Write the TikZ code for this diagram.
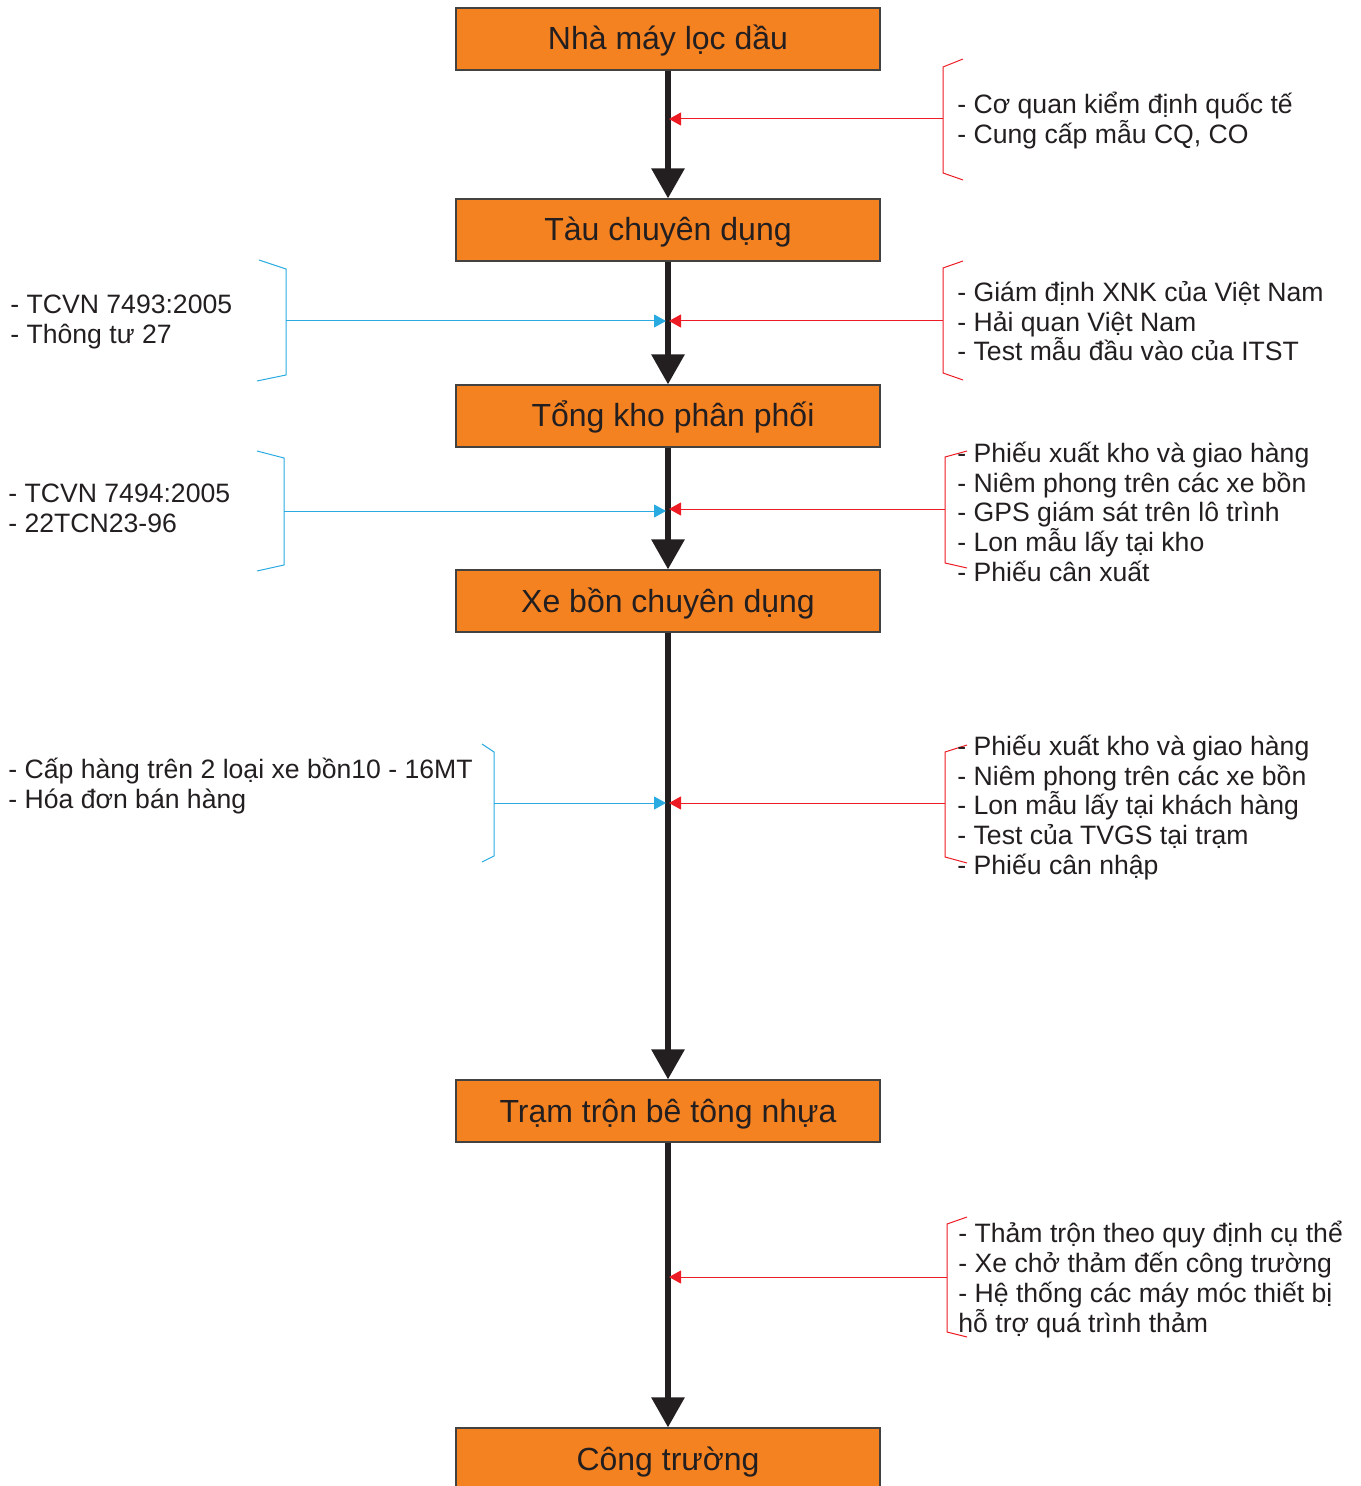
\documentclass[tikz,border=0pt]{standalone}
\usepackage{fontspec}
\setmainfont{Liberation Sans}
\usetikzlibrary{arrows.meta}
\definecolor{boxorange}{HTML}{F58220}
\definecolor{ink}{HTML}{231F20}
\definecolor{myred}{HTML}{ED1C24}
\definecolor{myblue}{HTML}{29ABE2}
\newcommand\mysidefont{\fontsize{13.3}{14.9}\selectfont\lineskiplimit -100pt\relax\lineskip 0pt\relax}
\begin{document}
\begin{tikzpicture}[x=0.5pt,y=-0.5pt,
  flowbox/.style={draw=ink!85, line width=0.6pt, fill=boxorange, minimum width=212pt,
    minimum height=31pt, inner sep=0pt, text height=13pt, text depth=2pt,
    font=\fontsize{16}{19}\selectfont, text=ink},
  mainarr/.style={draw=ink, line width=3pt, -{Triangle[width=16pt,length=15pt]}},
  redarr/.style={draw=myred, line width=0.5pt, -{Triangle[width=6.5pt,length=6pt]}},
  bluearr/.style={draw=myblue, line width=0.5pt, -{Triangle[width=6.5pt,length=6pt]}},
  redbrk/.style={draw=myred, line width=0.5pt},
  bluebrk/.style={draw=myblue, line width=0.5pt},
  sidetext/.style={anchor=north west, inner sep=0pt, align=left, text=ink,
    font=\mysidefont}
]
\useasboundingbox (0,0) rectangle (1360,1486);
\clip (0,0) rectangle (1360,1486);

% boxes
\node[flowbox] (b1) at (668,39)   {Nhà máy lọc dầu};
\node[flowbox] (b2) at (668,230)  {Tàu chuyên dụng};
\node[flowbox] (b3) at (668,416)  {\hspace*{5pt}Tổng kho phân phối};
\node[flowbox] (b4) at (668,601)  {Xe bồn chuyên dụng};
\node[flowbox] (b5) at (668,1111) {Trạm trộn bê tông nhựa};
\node[flowbox] (b6) at (668,1459) {Công trường};

% main arrows
\draw[mainarr] (b1.south) -- (b2.north);
\draw[mainarr] (b2.south) -- (b3.north);
\draw[mainarr] (b3.south) -- (b4.north);
\draw[mainarr] (b4.south) -- (b5.north);
\draw[mainarr] (b5.south) -- (b6.north);

% targets on main line
\coordinate (t1r) at (669,119);
\coordinate (t2r) at (669,321);
\coordinate (t2l) at (666,321);
\coordinate (t3r) at (669,509);
\coordinate (t3l) at (666,511);
\coordinate (t4r) at (669,803);
\coordinate (t4l) at (666,803);
\coordinate (t5r) at (669,1277);

% right brackets
\draw[redbrk] (963,59) -- (943,67) -- (943,173) -- (963,180);
\coordinate (r1) at (943,119);
\draw[redbrk] (963,261) -- (943,268) -- (943,373) -- (963,380);
\coordinate (r2) at (943,321);
\draw[redbrk] (967,451) -- (945,457) -- (945,563) -- (967,568);
\coordinate (r3) at (945,509);
\draw[redbrk] (967,745) -- (945,752) -- (945,857) -- (967,863);
\coordinate (r4) at (945,803);
\draw[redbrk] (967,1217) -- (947,1224) -- (947,1332) -- (967,1337);
\coordinate (r5) at (947,1277);

% left brackets
\draw[bluebrk] (259,260) -- (286,269) -- (286,375) -- (257,381);
\coordinate (l2) at (286,321);
\draw[bluebrk] (257,451) -- (284,458) -- (284,565) -- (257,571);
\coordinate (l3) at (284,511);
\draw[bluebrk] (482,744) -- (494,752) -- (494,856) -- (482,862);
\coordinate (l4) at (494,803);

% side connectors
\draw[redarr] (r1) -- (t1r);
\draw[redarr] (r2) -- (t2r);
\draw[redarr] (r3) -- (t3r);
\draw[redarr] (r4) -- (t4r);
\draw[redarr] (r5) -- (t5r);
\draw[bluearr] (l2) -- (t2l);
\draw[bluearr] (l3) -- (t3l);
\draw[bluearr] (l4) -- (t4l);

% side texts
\node[sidetext] (tr1) at (957,92) {\strut- Cơ quan kiểm định quốc tế\\\strut- Cung cấp mẫu CQ, CO};
\node[sidetext] (tr2) at (957,280) {\strut- Giám định XNK của Việt Nam\\\strut- Hải quan Việt Nam\\\strut- Test mẫu đầu vào của ITST};
\node[sidetext] (tr3) at (957,441) {\strut- Phiếu xuất kho và giao hàng\\\strut- Niêm phong trên các xe bồn\\\strut- GPS giám sát trên lô trình\\\strut- Lon mẫu lấy tại kho\\\strut- Phiếu cân xuất};
\node[sidetext] (tr4) at (957,734) {\strut- Phiếu xuất kho và giao hàng\\\strut- Niêm phong trên các xe bồn\\\strut- Lon mẫu lấy tại khách hàng\\\strut- Test của TVGS tại trạm\\\strut- Phiếu cân nhập};
\node[sidetext] (tr5) at (958,1221) {\strut- Thảm trộn theo quy định cụ thể\\\strut- Xe chở thảm đến công trường\\\strut- Hệ thống các máy móc thiết bị\\\strut hỗ trợ quá trình thảm};
\node[sidetext] (tl2) at (10,292) {\strut- TCVN 7493:2005\\\strut- Thông tư 27};
\node[sidetext] (tl3) at (8,481) {\strut- TCVN 7494:2005\\\strut- 22TCN23-96};
\node[sidetext] (tl4) at (8,757) {\strut- Cấp hàng trên 2 loại xe bồn10 - 16MT\\\strut- Hóa đơn bán hàng};
\end{tikzpicture}
\end{document}
